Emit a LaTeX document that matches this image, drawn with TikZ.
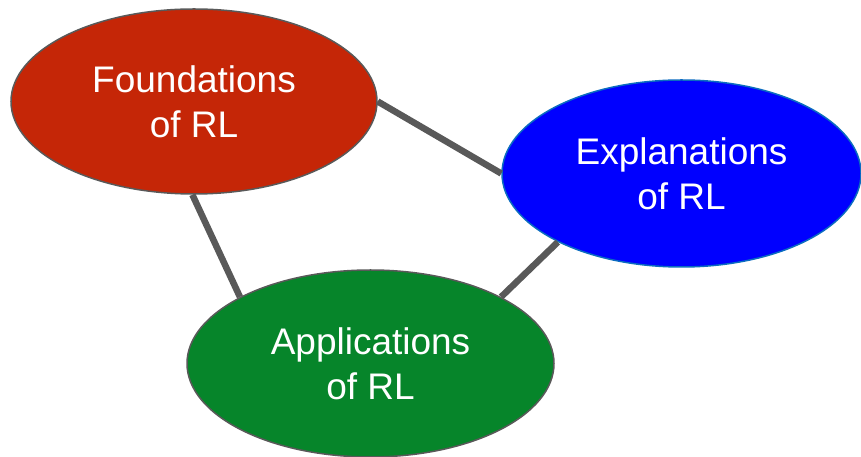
\documentclass[tikz,border=0pt]{standalone}
\usepackage{fontspec}
\setmainfont{Liberation Sans}
\usetikzlibrary{shapes.geometric}
\definecolor{redfill}{HTML}{C52607}
\definecolor{bluefill}{HTML}{0000FF}
\definecolor{blueedge}{HTML}{0B6CC0}
\definecolor{greenfill}{HTML}{06852A}
\definecolor{edgegray}{HTML}{595959}
\tikzset{
  topic/.style={ellipse, inner sep=0pt, align=center, text=white,
    font=\fontsize{37}{45}\selectfont, line width=1.5pt},
  link/.style={draw=edgegray, line width=6.5pt}
}
\begin{document}
\begin{tikzpicture}[x=1pt,y=1pt]
\useasboundingbox (0,0) rectangle (861,457);
\node[topic, fill=redfill, draw=edgegray, minimum width=366pt, minimum height=185pt] (found) at (194,355.5) {Foundations\\of RL};
\node[topic, fill=bluefill, draw=blueedge, minimum width=359pt, minimum height=187pt] (expl) at (681.5,283.5) {Explanations\\of RL};
\node[topic, fill=greenfill, draw=edgegray, minimum width=367pt, minimum height=187pt] (appl) at (370.5,93.5) {Applications\\of RL};
\draw[link] (found.-91.2) -- (appl.153.7);
\draw[link] (found.0.5) -- (expl.180);
\draw[link] (expl.-151.6) -- (appl.27.2);
\end{tikzpicture}
\end{document}
